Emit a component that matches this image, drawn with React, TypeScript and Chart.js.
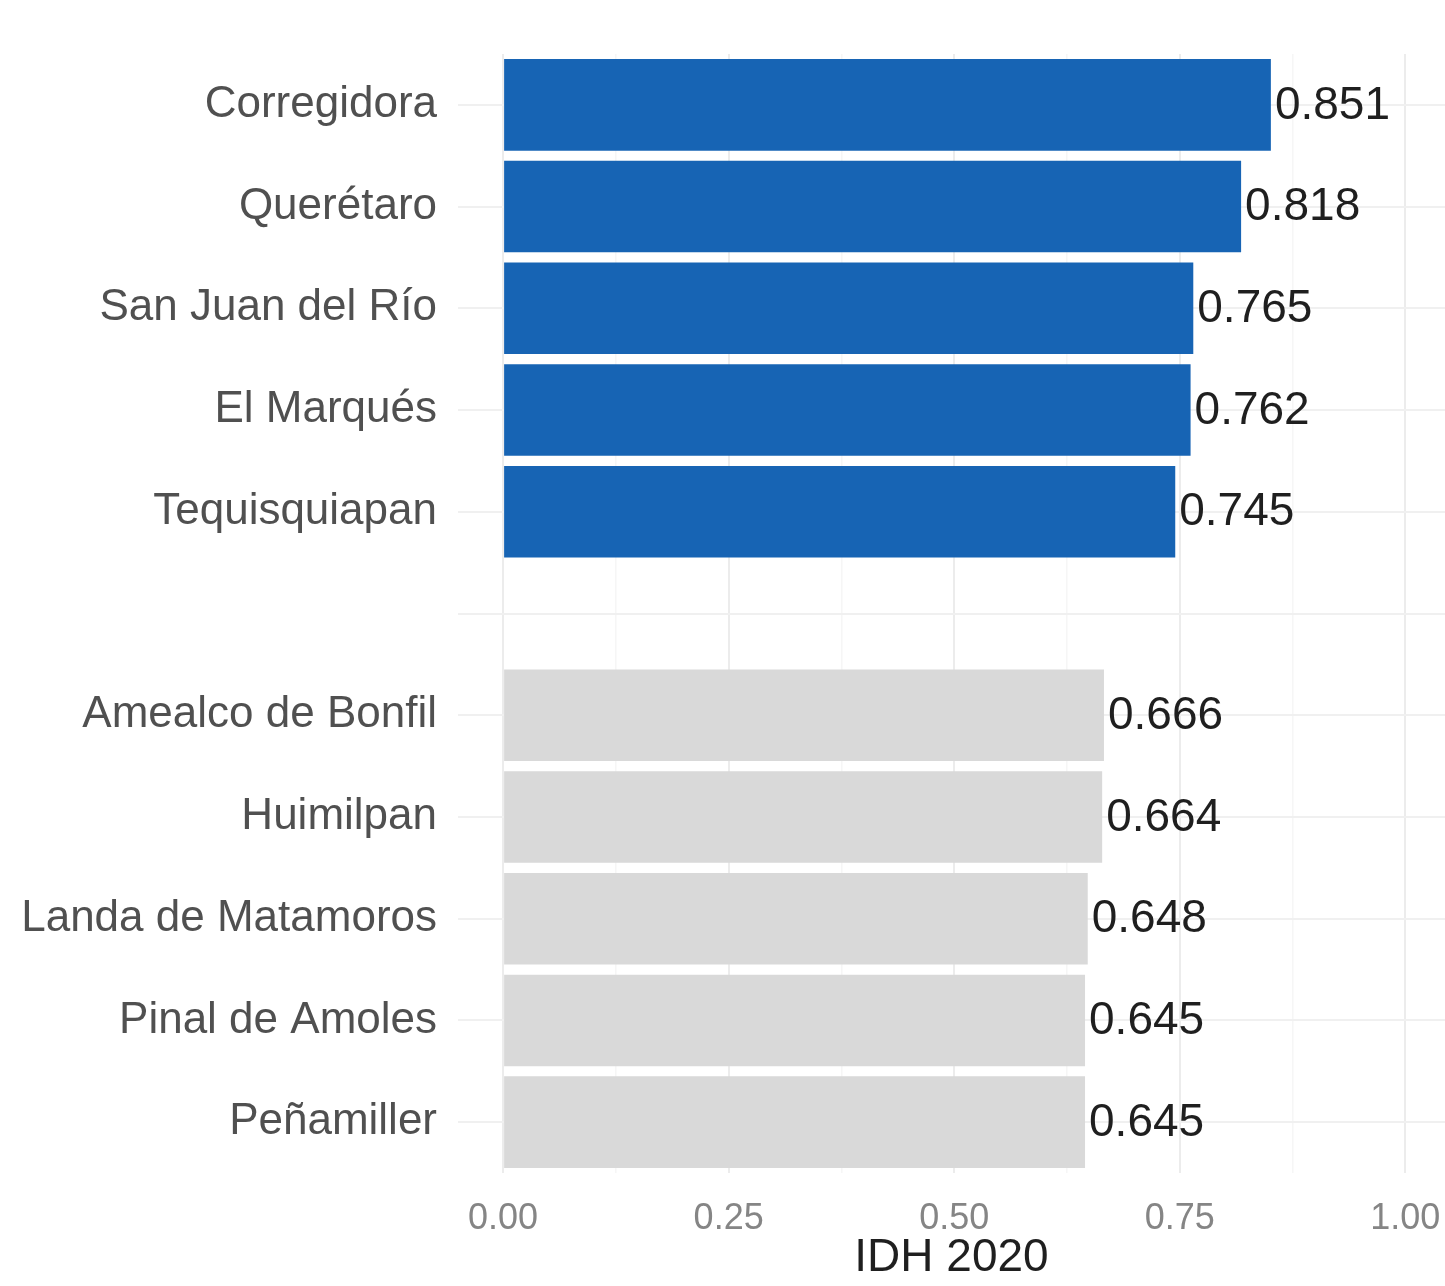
import React, { useEffect, useRef } from "react";
import { Chart, registerables } from "chart.js";

Chart.register(...registerables);

const categories = [
  "Corregidora",
  "Querétaro",
  "San Juan del Río",
  "El Marqués",
  "Tequisquiapan",
  "",
  "Amealco de Bonfil",
  "Huimilpan",
  "Landa de Matamoros",
  "Pinal de Amoles",
  "Peñamiller",
];

const idhValues: (number | null)[] = [
  0.851, 0.818, 0.765, 0.762, 0.745, null, 0.666, 0.664, 0.648, 0.645, 0.645,
];

const groupOf = ["top", "top", "top", "top", "top", "", "low", "low", "low", "low", "low"];

const xTickValues = [0, 0.125, 0.25, 0.375, 0.5, 0.625, 0.75, 0.875, 1];

const BLUE = "#1764b4";
const GREY = "#d9d9d9";

const valueLabels = {
  id: "valueLabels",
  afterDatasetsDraw(chart: any) {
    const ctx = chart.ctx;
    const meta = chart.getDatasetMeta(0);
    ctx.save();
    ctx.font = "46px 'Liberation Sans', Arial, sans-serif";
    ctx.fillStyle = "#1f1f1f";
    ctx.textAlign = "left";
    ctx.textBaseline = "middle";
    meta.data.forEach((bar: any, i: number) => {
      const v = idhValues[i];
      if (v == null) return;
      ctx.fillText(v.toFixed(3), bar.x + 4, bar.y + 1);
    });
    ctx.restore();
  },
};

const isMajor = (v: number) => Math.abs(v * 4 - Math.round(v * 4)) < 1e-6;

export default function App() {
  const ref = useRef<HTMLCanvasElement>(null);
  useEffect(() => {
    if (!ref.current) return;
    const chart = new Chart(ref.current, {
      type: "bar",
      data: {
        labels: categories,
        datasets: [
          {
            data: idhValues,
            backgroundColor: groupOf.map((g) => (g === "top" ? BLUE : GREY)),
            borderWidth: 0,
            barPercentage: 0.9,
            categoryPercentage: 1,
          },
        ],
      },
      options: {
        indexAxis: "y",
        animation: false,
        responsive: false,
        devicePixelRatio: 1,
        layout: { padding: { top: 54, left: 0, right: 0, bottom: 0 } },
        plugins: {
          legend: { display: false },
          tooltip: { enabled: false },
        },
        scales: {
          x: {
            type: "linear",
            min: -0.05,
            max: 1.044,
            afterBuildTicks: (scale: any) => {
              scale.ticks = xTickValues.map((v) => ({ value: v }));
            },
            afterFit: (scale: any) => {
              scale.height = 113;
              scale.paddingLeft = 0;
              scale.paddingRight = 0;
            },
            border: { display: false },
            grid: {
              drawTicks: false,
              color: (c: any) => (isMajor(c.tick.value) ? "#ececec" : "#f6f6f6"),
              lineWidth: (c: any) => (isMajor(c.tick.value) ? 2 : 1.5),
            },
            ticks: {
              autoSkip: false,
              maxRotation: 0,
              padding: 24,
              color: "#858585",
              font: { family: "'Liberation Sans', Arial, sans-serif", size: 36 },
              callback: (v: any) => {
                const n = Number(v);
                return isMajor(n) ? n.toFixed(2) : "";
              },
            },
            title: {
              display: true,
              text: "IDH 2020",
              color: "#1f1f1f",
              padding: { top: 0, bottom: 0 },
              font: { family: "'Liberation Sans', Arial, sans-serif", size: 46 },
            },
          },
          y: {
            type: "category",
            offset: true,
            afterFit: (scale: any) => {
              scale.width = 458;
            },
            border: { display: false },
            grid: {
              offset: false,
              drawTicks: false,
              color: "#f0f0f0",
              lineWidth: 2,
            },
            ticks: {
              padding: 21,
              color: "#505050",
              font: { family: "'Liberation Sans', Arial, sans-serif", size: 44 },
            },
          },
        },
      },
      plugins: [valueLabels],
    } as any);
    return () => chart.destroy();
  }, []);

  return (
    <div style={{ position: "absolute", left: 0, top: 0, width: 1445, height: 1286, background: "#fff" }}>
      <canvas ref={ref} width={1445} height={1286} style={{ width: 1445, height: 1286, display: "block" }} />
    </div>
  );
}
